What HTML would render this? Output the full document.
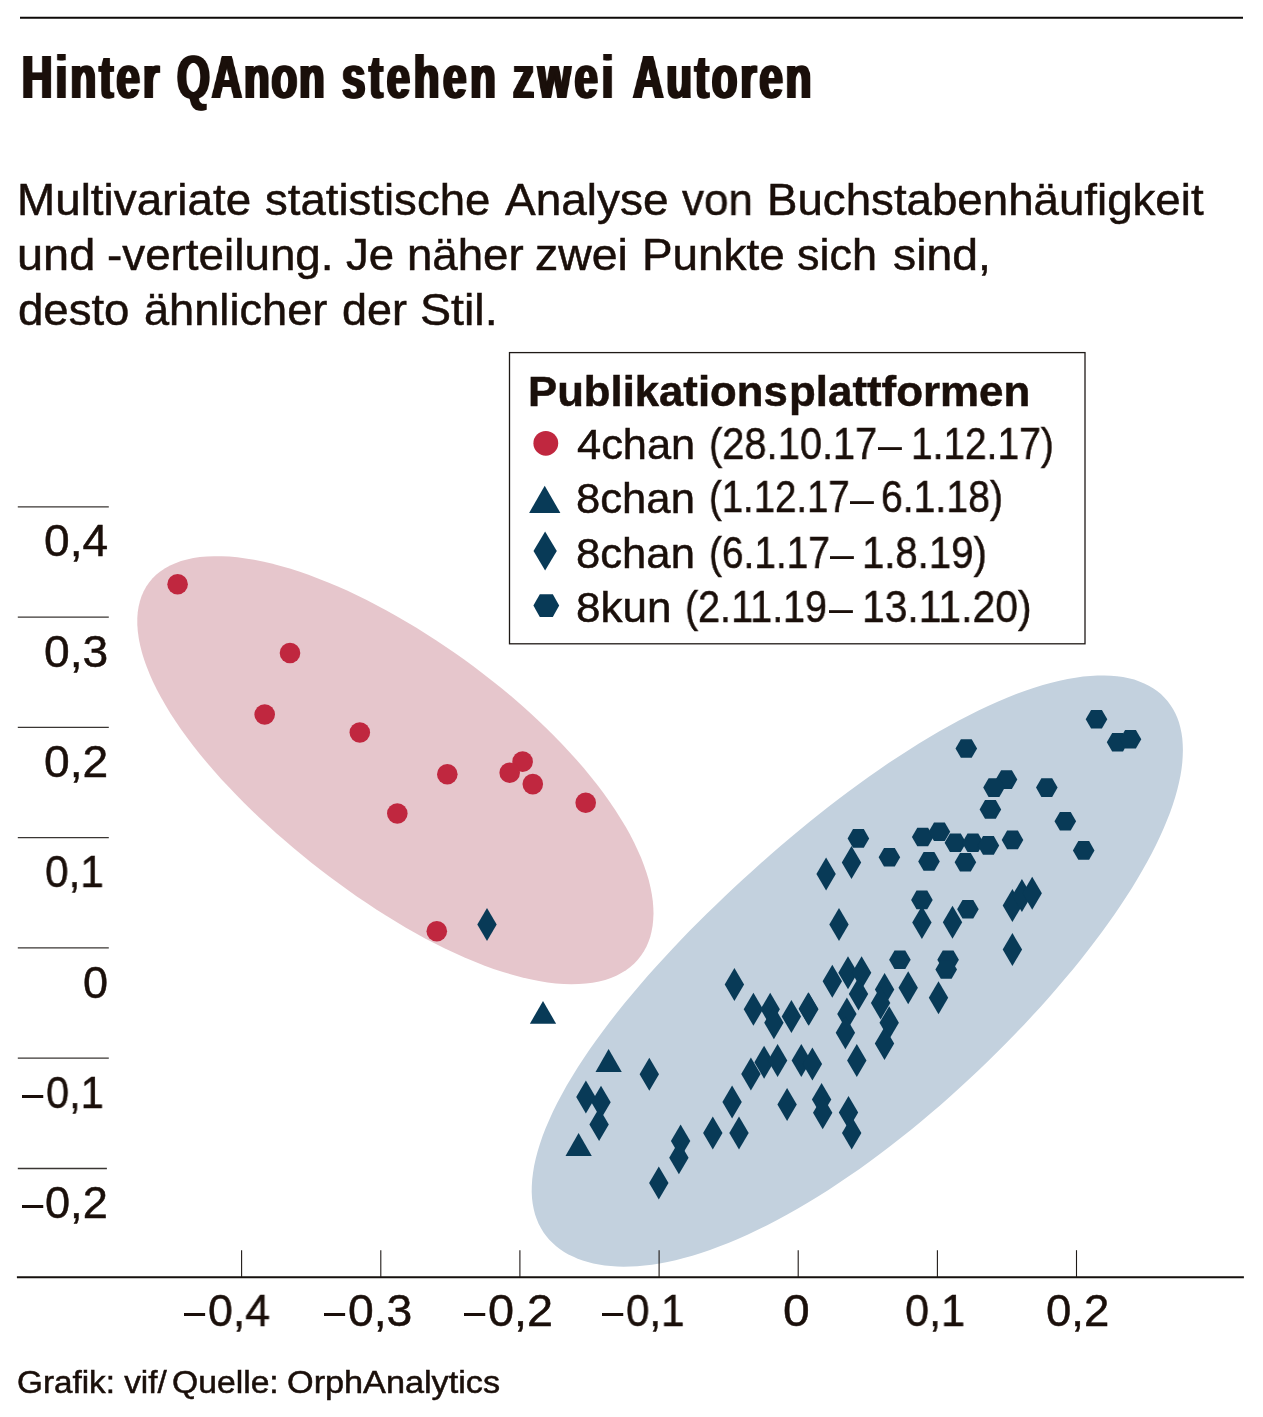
<!DOCTYPE html><html lang="de"><head><meta charset="utf-8"><title>Hinter QAnon stehen zwei Autoren</title><style>
html,body{margin:0;padding:0;background:#fff}
body{width:1263px;height:1417px;position:relative;overflow:hidden;font-family:"Liberation Sans",sans-serif;color:#1a0f0a}
svg{position:absolute;left:0;top:0}
.t{position:absolute;white-space:nowrap;line-height:1;transform-origin:0 0;will-change:transform;-webkit-text-stroke:0.5px #1a0f0a}
</style></head><body>
<svg width="1263" height="1417" viewBox="0 0 1263 1417">
<path fill="#e6c6cc" d="M149.3 582.3L152.6 578.3L156.4 574.6L160.6 571.3L165.1 568.2L170.1 565.5L175.4 563.2L181.0 561.1L187.0 559.5L193.3 558.1L199.9 557.1L206.8 556.5L214.1 556.2L221.6 556.2L229.3 556.6L237.4 557.3L245.6 558.4L254.1 559.8L262.7 561.5L271.6 563.6L280.6 565.9L289.8 568.6L299.1 571.6L308.5 574.8L318.0 578.4L327.6 582.2L337.3 586.3L347.1 590.6L356.9 595.2L366.7 600.1L376.6 605.2L386.5 610.4L396.3 615.9L406.2 621.7L416.0 627.6L425.8 633.7L435.6 639.9L445.3 646.4L454.9 653.0L464.5 659.8L474.0 666.8L483.4 673.9L492.7 681.2L501.9 688.6L511.0 696.1L519.9 703.8L528.6 711.6L537.2 719.5L545.6 727.5L553.7 735.6L561.7 743.7L569.4 752.0L576.9 760.2L584.1 768.6L591.0 776.9L597.6 785.2L603.8 793.6L609.8 801.9L615.4 810.2L620.6 818.4L625.5 826.5L630.0 834.6L634.1 842.6L637.8 850.4L641.2 858.1L644.1 865.7L646.6 873.1L648.8 880.3L650.5 887.4L651.8 894.3L652.8 901.0L653.3 907.5L653.5 913.8L653.2 919.8L652.6 925.7L651.6 931.3L650.3 936.7L648.5 941.8L646.4 946.7L643.9 951.3L641.1 955.6L637.8 959.7L634.3 963.5L630.3 967.0L626.0 970.2L621.3 973.1L616.3 975.7L610.9 978.0L605.2 979.9L599.1 981.5L592.6 982.7L585.9 983.6L578.8 984.1L571.4 984.2L563.7 984.0L555.8 983.4L547.5 982.4L539.0 981.1L530.3 979.3L521.4 977.3L512.3 974.8L503.0 972.0L493.5 968.9L484.0 965.4L474.3 961.6L464.5 957.5L454.7 953.1L444.9 948.5L435.0 943.6L425.1 938.4L415.3 933.0L405.5 927.4L395.7 921.6L385.9 915.6L376.3 909.5L366.7 903.1L357.2 896.7L347.8 890.1L338.5 883.3L329.3 876.5L320.1 869.5L311.1 862.5L302.3 855.3L293.5 848.0L284.8 840.6L276.3 833.2L267.9 825.6L259.7 818.0L251.6 810.3L243.7 802.5L235.9 794.6L228.3 786.6L220.9 778.7L213.7 770.6L206.8 762.5L200.1 754.4L193.6 746.2L187.4 738.1L181.5 729.9L175.9 721.8L170.6 713.7L165.7 705.6L161.1 697.6L156.9 689.7L153.1 681.9L149.7 674.2L146.6 666.6L144.0 659.2L141.8 651.9L140.0 644.8L138.7 637.9L137.8 631.2L137.3 624.8L137.3 618.5L137.7 612.5L138.6 606.8L139.9 601.3L141.6 596.1L143.7 591.2L146.3 586.6Z"/>
<path fill="#c3d1de" d="M552.7 1243.1L549.3 1239.7L546.2 1236.0L543.4 1232.2L540.9 1228.0L538.6 1223.7L536.7 1219.0L535.0 1214.2L533.7 1209.0L532.7 1203.7L532.0 1198.0L531.7 1192.1L531.8 1186.0L532.2 1179.5L533.0 1172.9L534.1 1166.0L535.7 1158.8L537.6 1151.5L539.9 1143.9L542.6 1136.1L545.7 1128.1L549.2 1119.9L553.0 1111.5L557.2 1103.0L561.8 1094.4L566.7 1085.6L572.0 1076.7L577.5 1067.8L583.4 1058.7L589.6 1049.6L596.0 1040.4L602.8 1031.2L609.7 1022.0L616.9 1012.8L624.3 1003.6L631.9 994.4L639.7 985.2L647.6 976.1L655.7 967.0L664.0 957.9L672.3 948.9L680.8 940.0L689.4 931.1L698.2 922.3L707.0 913.6L715.9 904.9L724.9 896.3L733.9 887.7L743.1 879.3L752.3 870.9L761.6 862.5L771.0 854.3L780.5 846.1L790.0 838.1L799.6 830.1L809.3 822.1L819.0 814.3L828.8 806.6L838.6 799.0L848.6 791.6L858.5 784.2L868.5 777.0L878.6 770.0L888.6 763.1L898.7 756.4L908.8 749.9L918.9 743.6L928.9 737.4L939.0 731.6L948.9 725.9L958.9 720.5L968.7 715.4L978.5 710.6L988.1 706.0L997.6 701.8L1007.0 697.8L1016.2 694.1L1025.3 690.8L1034.2 687.8L1042.9 685.1L1051.4 682.8L1059.6 680.7L1067.7 679.0L1075.5 677.7L1083.1 676.6L1090.4 675.9L1097.4 675.5L1104.2 675.4L1110.8 675.7L1117.0 676.2L1123.0 677.1L1128.7 678.2L1134.2 679.6L1139.3 681.4L1144.2 683.4L1148.8 685.7L1153.1 688.2L1157.1 691.0L1160.9 694.1L1164.3 697.4L1167.5 701.0L1170.4 704.9L1173.0 708.9L1175.3 713.3L1177.3 717.8L1179.0 722.6L1180.4 727.7L1181.5 732.9L1182.3 738.4L1182.7 744.1L1182.9 750.1L1182.7 756.2L1182.3 762.6L1181.5 769.2L1180.4 776.0L1178.9 783.0L1177.2 790.1L1175.1 797.5L1172.7 805.0L1170.0 812.7L1166.9 820.6L1163.6 828.6L1159.9 836.7L1156.0 845.0L1151.7 853.4L1147.1 862.0L1142.3 870.6L1137.2 879.3L1131.8 888.2L1126.1 897.1L1120.2 906.0L1114.1 915.0L1107.7 924.1L1101.0 933.2L1094.2 942.3L1087.1 951.5L1079.9 960.7L1072.4 969.9L1064.7 979.1L1056.9 988.3L1048.9 997.5L1040.7 1006.7L1032.3 1015.8L1023.8 1024.9L1015.1 1034.0L1006.3 1043.1L997.3 1052.1L988.2 1061.1L978.9 1070.0L969.5 1078.8L960.0 1087.6L950.4 1096.3L940.6 1104.9L930.8 1113.3L920.8 1121.7L910.8 1130.0L900.6 1138.1L890.4 1146.0L880.2 1153.8L869.8 1161.4L859.5 1168.9L849.1 1176.1L838.8 1183.1L828.4 1189.9L818.0 1196.5L807.7 1202.8L797.5 1208.8L787.3 1214.6L777.2 1220.0L767.2 1225.2L757.3 1230.1L747.5 1234.7L737.9 1239.0L728.4 1243.0L719.1 1246.6L710.0 1250.0L701.1 1253.0L692.4 1255.7L683.9 1258.1L675.6 1260.2L667.5 1262.0L659.6 1263.5L651.9 1264.7L644.5 1265.6L637.3 1266.2L630.4 1266.6L623.6 1266.7L617.1 1266.5L610.8 1266.1L604.7 1265.5L598.9 1264.6L593.3 1263.4L587.9 1262.1L582.7 1260.5L577.7 1258.7L573.0 1256.6L568.4 1254.4L564.1 1251.9L560.1 1249.2L556.2 1246.2Z"/>
<path d="M20 17.8H1243" stroke="#0d0a08" stroke-width="2" fill="none"/>
<path d="M16.9 1277.3H1243.9" stroke="#15100d" stroke-width="1.9" fill="none"/>
<g stroke="#1f1a17" stroke-width="1.1" fill="none">
<path d="M241.6 1250.2V1277.3"/>
<path d="M380.8 1250.2V1277.3"/>
<path d="M519.9 1250.2V1277.3"/>
<path d="M659.1 1250.2V1277.3"/>
<path d="M798.2 1250.2V1277.3"/>
<path d="M937.4 1250.2V1277.3"/>
<path d="M1076.5 1250.2V1277.3"/>
</g>
<g stroke="#3a3633" stroke-width="1.3" fill="none">
<path d="M17.8 506.8H108.8"/>
<path d="M17.8 617.1H108.8"/>
<path d="M17.8 727.4H108.8"/>
<path d="M17.8 837.6H108.8"/>
<path d="M17.8 947.9H108.8"/>
<path d="M17.8 1058.2H108.8"/>
<path d="M17.8 1168.5H106.9"/>
</g>
<g fill="#c0273f">
<circle cx="177.6" cy="584.3" r="10.3"/>
<circle cx="290.0" cy="653.0" r="10.3"/>
<circle cx="264.7" cy="714.5" r="10.3"/>
<circle cx="359.8" cy="732.5" r="10.3"/>
<circle cx="447.3" cy="774.2" r="10.3"/>
<circle cx="397.3" cy="813.5" r="10.3"/>
<circle cx="522.6" cy="761.6" r="10.3"/>
<circle cx="509.7" cy="772.7" r="10.3"/>
<circle cx="532.8" cy="784.1" r="10.3"/>
<circle cx="585.7" cy="802.8" r="10.3"/>
<circle cx="436.8" cy="931.3" r="10.3"/>
</g>
<g fill="#083a57">
<path d="M543.0 1000.9L556.1 1023.7L529.9 1023.7Z"/>
<path d="M608.6 1049.1L621.8 1071.9L595.5 1071.9Z"/>
<path d="M578.6 1133.1L591.8 1155.9L565.5 1155.9Z"/>
<path d="M487.0 908.0L496.7 924.5L487.0 941.0L477.3 924.5Z"/>
<path d="M839.0 908.0L848.7 924.5L839.0 941.0L829.3 924.5Z"/>
<path d="M734.4 967.9L744.1 984.4L734.4 1000.9L724.7 984.4Z"/>
<path d="M753.4 992.8L763.1 1009.3L753.4 1025.8L743.7 1009.3Z"/>
<path d="M770.2 992.8L779.9 1009.3L770.2 1025.8L760.5 1009.3Z"/>
<path d="M773.9 1006.2L783.6 1022.7L773.9 1039.2L764.2 1022.7Z"/>
<path d="M791.4 999.9L801.1 1016.4L791.4 1032.9L781.7 1016.4Z"/>
<path d="M808.8 992.8L818.5 1009.3L808.8 1025.8L799.1 1009.3Z"/>
<path d="M832.3 964.7L842.0 981.2L832.3 997.7L822.6 981.2Z"/>
<path d="M848.0 956.2L857.7 972.7L848.0 989.2L838.3 972.7Z"/>
<path d="M861.6 956.2L871.3 972.7L861.6 989.2L851.9 972.7Z"/>
<path d="M858.5 977.6L868.2 994.1L858.5 1010.6L848.8 994.1Z"/>
<path d="M846.9 997.5L856.6 1014.0L846.9 1030.5L837.2 1014.0Z"/>
<path d="M845.4 1016.2L855.1 1032.7L845.4 1049.2L835.7 1032.7Z"/>
<path d="M884.6 972.9L894.3 989.4L884.6 1005.9L874.9 989.4Z"/>
<path d="M880.6 986.5L890.3 1003.0L880.6 1019.5L870.9 1003.0Z"/>
<path d="M889.2 1006.2L898.9 1022.7L889.2 1039.2L879.5 1022.7Z"/>
<path d="M884.5 1027.1L894.2 1043.6L884.5 1060.1L874.8 1043.6Z"/>
<path d="M856.8 1043.9L866.5 1060.4L856.8 1076.9L847.1 1060.4Z"/>
<path d="M750.9 1057.6L760.6 1074.1L750.9 1090.6L741.2 1074.1Z"/>
<path d="M764.1 1045.7L773.8 1062.2L764.1 1078.7L754.4 1062.2Z"/>
<path d="M777.6 1043.9L787.3 1060.4L777.6 1076.9L767.9 1060.4Z"/>
<path d="M801.3 1043.9L811.0 1060.4L801.3 1076.9L791.6 1060.4Z"/>
<path d="M812.4 1047.4L822.1 1063.9L812.4 1080.4L802.7 1063.9Z"/>
<path d="M732.1 1085.6L741.8 1102.1L732.1 1118.6L722.4 1102.1Z"/>
<path d="M787.1 1088.1L796.8 1104.6L787.1 1121.1L777.4 1104.6Z"/>
<path d="M821.6 1082.9L831.3 1099.4L821.6 1115.9L811.9 1099.4Z"/>
<path d="M822.7 1096.3L832.4 1112.8L822.7 1129.3L813.0 1112.8Z"/>
<path d="M848.5 1096.0L858.2 1112.5L848.5 1129.0L838.8 1112.5Z"/>
<path d="M851.7 1116.6L861.4 1133.1L851.7 1149.6L842.0 1133.1Z"/>
<path d="M712.8 1116.5L722.5 1133.0L712.8 1149.5L703.1 1133.0Z"/>
<path d="M739.0 1116.5L748.7 1133.0L739.0 1149.5L729.3 1133.0Z"/>
<path d="M649.3 1057.8L659.0 1074.3L649.3 1090.8L639.6 1074.3Z"/>
<path d="M585.9 1080.6L595.6 1097.1L585.9 1113.6L576.2 1097.1Z"/>
<path d="M601.0 1085.8L610.7 1102.3L601.0 1118.8L591.3 1102.3Z"/>
<path d="M599.1 1108.0L608.8 1124.5L599.1 1141.0L589.4 1124.5Z"/>
<path d="M680.6 1124.6L690.3 1141.1L680.6 1157.6L670.9 1141.1Z"/>
<path d="M678.9 1141.3L688.6 1157.8L678.9 1174.3L669.2 1157.8Z"/>
<path d="M658.8 1166.6L668.5 1183.1L658.8 1199.6L649.1 1183.1Z"/>
<path d="M826.1 857.6L835.8 874.1L826.1 890.6L816.4 874.1Z"/>
<path d="M851.5 846.0L861.2 862.5L851.5 879.0L841.8 862.5Z"/>
<path d="M921.9 906.0L931.6 922.5L921.9 939.0L912.2 922.5Z"/>
<path d="M952.5 905.8L962.2 922.3L952.5 938.8L942.8 922.3Z"/>
<path d="M1012.4 889.1L1022.1 905.6L1012.4 922.1L1002.7 905.6Z"/>
<path d="M1021.9 879.1L1031.6 895.6L1021.9 912.1L1012.2 895.6Z"/>
<path d="M1032.2 876.8L1041.9 893.3L1032.2 909.8L1022.5 893.3Z"/>
<path d="M1012.4 933.1L1022.1 949.6L1012.4 966.1L1002.7 949.6Z"/>
<path d="M908.2 971.3L917.9 987.8L908.2 1004.3L898.5 987.8Z"/>
<path d="M938.5 981.3L948.2 997.8L938.5 1014.3L928.8 997.8Z"/>
<path d="M808.3 992.2L818.0 1008.7L808.3 1025.2L798.6 1008.7Z"/>
<path d="M1085.7 719.3L1091.1 710.0L1101.9 710.0L1107.3 719.3L1101.9 728.6L1091.1 728.6Z"/>
<path d="M1106.8 742.2L1112.2 732.9L1123.0 732.9L1128.4 742.2L1123.0 751.5L1112.2 751.5Z"/>
<path d="M1119.7 739.3L1125.1 730.0L1135.9 730.0L1141.3 739.3L1135.9 748.6L1125.1 748.6Z"/>
<path d="M955.5 748.5L960.9 739.2L971.7 739.2L977.1 748.5L971.7 757.8L960.9 757.8Z"/>
<path d="M995.7 779.6L1001.1 770.3L1011.9 770.3L1017.3 779.6L1011.9 788.9L1001.1 788.9Z"/>
<path d="M983.2 787.6L988.6 778.3L999.4 778.3L1004.8 787.6L999.4 796.9L988.6 796.9Z"/>
<path d="M1036.0 787.6L1041.4 778.3L1052.2 778.3L1057.6 787.6L1052.2 796.9L1041.4 796.9Z"/>
<path d="M979.6 809.4L985.0 800.1L995.8 800.1L1001.2 809.4L995.8 818.7L985.0 818.7Z"/>
<path d="M1054.5 821.3L1059.9 812.0L1070.7 812.0L1076.1 821.3L1070.7 830.6L1059.9 830.6Z"/>
<path d="M1072.9 850.4L1078.3 841.1L1089.1 841.1L1094.5 850.4L1089.1 859.7L1078.3 859.7Z"/>
<path d="M1001.7 839.9L1007.1 830.6L1017.9 830.6L1023.3 839.9L1017.9 849.2L1007.1 849.2Z"/>
<path d="M847.6 838.4L853.0 829.1L863.8 829.1L869.2 838.4L863.8 847.7L853.0 847.7Z"/>
<path d="M911.9 837.0L917.3 827.7L928.1 827.7L933.5 837.0L928.1 846.3L917.3 846.3Z"/>
<path d="M928.6 831.8L934.0 822.5L944.8 822.5L950.2 831.8L944.8 841.1L934.0 841.1Z"/>
<path d="M944.6 842.8L950.0 833.5L960.8 833.5L966.2 842.8L960.8 852.1L950.0 852.1Z"/>
<path d="M962.1 842.8L967.5 833.5L978.3 833.5L983.7 842.8L978.3 852.1L967.5 852.1Z"/>
<path d="M977.6 845.4L983.0 836.1L993.8 836.1L999.2 845.4L993.8 854.7L983.0 854.7Z"/>
<path d="M878.6 857.2L884.0 847.9L894.8 847.9L900.2 857.2L894.8 866.5L884.0 866.5Z"/>
<path d="M918.2 861.4L923.6 852.1L934.4 852.1L939.8 861.4L934.4 870.7L923.6 870.7Z"/>
<path d="M954.6 862.2L960.0 852.9L970.8 852.9L976.2 862.2L970.8 871.5L960.0 871.5Z"/>
<path d="M911.1 899.9L916.5 890.6L927.3 890.6L932.7 899.9L927.3 909.2L916.5 909.2Z"/>
<path d="M957.1 909.2L962.5 899.9L973.3 899.9L978.7 909.2L973.3 918.5L962.5 918.5Z"/>
<path d="M889.1 959.8L894.5 950.5L905.3 950.5L910.7 959.8L905.3 969.1L894.5 969.1Z"/>
<path d="M937.3 959.8L942.7 950.5L953.5 950.5L958.9 959.8L953.5 969.1L942.7 969.1Z"/>
<path d="M935.4 969.5L940.8 960.2L951.6 960.2L957.0 969.5L951.6 978.8L940.8 978.8Z"/>
</g>
<rect x="509.5" y="352.6" width="575.5" height="291.2" fill="#fff" stroke="#1f1a17" stroke-width="1.3"/>
<circle cx="545.8" cy="443.3" r="12.4" fill="#c0273f"/>
<g fill="#083a57"><path d="M544.7 485.7L560.4 513.0L529.1 513.0Z"/><path d="M545.1 531.4L556.8 551.0L545.1 570.6L533.5 551.0Z"/><path d="M533.4 605.6L539.8 594.3L552.8 594.3L559.2 605.6L552.8 616.9L539.8 616.9Z"/></g>
</svg>
<div class="t" id="t1" style="left:21.71px;top:46.42px;font-size:62px;transform:scaleX(0.6800);font-weight:bold;letter-spacing:4.57px;-webkit-text-stroke:0;text-shadow:2.13px 0 0 #1a0f0a,-2.13px 0 0 #1a0f0a;">Hinter</div>
<div class="t" id="t2" style="left:177.03px;top:46.42px;font-size:62px;transform:scaleX(0.6800);font-weight:bold;letter-spacing:2.63px;-webkit-text-stroke:0;text-shadow:2.13px 0 0 #1a0f0a,-2.13px 0 0 #1a0f0a;">QAnon</div>
<div class="t" id="t3" style="left:342.03px;top:46.42px;font-size:62px;transform:scaleX(0.6800);font-weight:bold;letter-spacing:5.26px;-webkit-text-stroke:0;text-shadow:2.13px 0 0 #1a0f0a,-2.13px 0 0 #1a0f0a;">stehen</div>
<div class="t" id="t4" style="left:512.83px;top:46.42px;font-size:62px;transform:scaleX(0.6800);font-weight:bold;letter-spacing:5.53px;-webkit-text-stroke:0;text-shadow:2.13px 0 0 #1a0f0a,-2.13px 0 0 #1a0f0a;">zwei</div>
<div class="t" id="t5" style="left:632.69px;top:46.42px;font-size:62px;transform:scaleX(0.6800);font-weight:bold;letter-spacing:4.12px;-webkit-text-stroke:0;text-shadow:2.13px 0 0 #1a0f0a,-2.13px 0 0 #1a0f0a;">Autoren</div>
<div class="t" id="sa0" style="left:17.22px;top:178.13px;font-size:44.5px;transform:scaleX(1.0295);">Multivariate</div>
<div class="t" id="sa1" style="left:265.29px;top:178.13px;font-size:44.5px;transform:scaleX(1.0238);">statistische</div>
<div class="t" id="sa2" style="left:504.70px;top:178.13px;font-size:44.5px;transform:scaleX(1.0332);">Analyse</div>
<div class="t" id="sa3" style="left:681.60px;top:178.13px;font-size:44.5px;transform:scaleX(0.9877);">von</div>
<div class="t" id="sa4" style="left:766.73px;top:178.13px;font-size:44.5px;transform:scaleX(1.0260);">Buchstabenhäufigkeit</div>
<div class="t" id="sb0" style="left:16.87px;top:233.13px;font-size:44.5px;transform:scaleX(1.0541);">und</div>
<div class="t" id="sb1" style="left:107.47px;top:233.13px;font-size:44.5px;transform:scaleX(1.0292);">-verteilung.</div>
<div class="t" id="sb2" style="left:346.19px;top:233.13px;font-size:44.5px;transform:scaleX(1.0247);">Je</div>
<div class="t" id="sb3" style="left:406.55px;top:233.13px;font-size:44.5px;transform:scaleX(1.0251);">näher</div>
<div class="t" id="sb4" style="left:535.45px;top:233.13px;font-size:44.5px;transform:scaleX(1.0437);">zwei</div>
<div class="t" id="sb5" style="left:642.02px;top:233.13px;font-size:44.5px;transform:scaleX(1.0303);">Punkte</div>
<div class="t" id="sb6" style="left:797.40px;top:233.13px;font-size:44.5px;transform:scaleX(1.0113);">sich</div>
<div class="t" id="sb7" style="left:892.68px;top:233.13px;font-size:44.5px;transform:scaleX(1.0403);">sind,</div>
<div class="t" id="sc0" style="left:18.38px;top:288.13px;font-size:44.5px;transform:scaleX(1.0230);">desto</div>
<div class="t" id="sc1" style="left:144.29px;top:288.13px;font-size:44.5px;transform:scaleX(1.0152);">ähnlicher</div>
<div class="t" id="sc2" style="left:341.90px;top:288.13px;font-size:44.5px;transform:scaleX(1.0094);">der</div>
<div class="t" id="sc3" style="left:420.04px;top:288.13px;font-size:44.5px;transform:scaleX(1.0470);">Stil.</div>
<div class="t" id="lt0" style="left:528.17px;top:369.90px;font-size:43px;transform:scaleX(1.0158);font-weight:bold;">Publikations</div>
<div class="t" id="lt1" style="left:788.86px;top:369.90px;font-size:43px;transform:scaleX(1.0201);font-weight:bold;">plattformen</div>
<div class="t" id="la0" style="left:576.52px;top:423.20px;font-size:43px;transform:scaleX(1.0090);">4chan</div>
<div class="t" id="la1" style="left:708.83px;top:421.93px;font-size:44.5px;transform:scaleX(0.8949);">(28.10.17</div>
<div class="t" id="la2" style="left:878.20px;top:423.20px;font-size:43px;transform:scaleX(0.9840);-webkit-text-stroke:0;">–</div>
<div class="t" id="la3" style="left:911.27px;top:421.93px;font-size:44.5px;transform:scaleX(0.8742);">1.12.17)</div>
<div class="t" id="lb0" style="left:575.84px;top:476.60px;font-size:43px;transform:scaleX(1.0150);">8chan</div>
<div class="t" id="lb1" style="left:708.90px;top:475.33px;font-size:44.5px;transform:scaleX(0.8614);">(1.12.17</div>
<div class="t" id="lb2" style="left:849.90px;top:476.60px;font-size:43px;transform:scaleX(0.9964);-webkit-text-stroke:0;">–</div>
<div class="t" id="lb3" style="left:881.36px;top:475.33px;font-size:44.5px;transform:scaleX(0.8803);">6.1.18)</div>
<div class="t" id="lc0" style="left:575.84px;top:531.80px;font-size:43px;transform:scaleX(1.0150);">8chan</div>
<div class="t" id="lc1" style="left:708.88px;top:530.53px;font-size:44.5px;transform:scaleX(0.8726);">(6.1.17</div>
<div class="t" id="lc2" style="left:830.20px;top:531.80px;font-size:43px;transform:scaleX(0.9798);-webkit-text-stroke:0;">–</div>
<div class="t" id="lc3" style="left:862.29px;top:530.53px;font-size:44.5px;transform:scaleX(0.9014);">1.8.19)</div>
<div class="t" id="ld0" style="left:575.82px;top:586.10px;font-size:43px;transform:scaleX(1.0247);">8kun</div>
<div class="t" id="ld1" style="left:684.85px;top:584.83px;font-size:44.5px;transform:scaleX(0.8873);">(2.11.19</div>
<div class="t" id="ld2" style="left:828.70px;top:586.10px;font-size:43px;transform:scaleX(1.0005);-webkit-text-stroke:0;">–</div>
<div class="t" id="ld3" style="left:862.25px;top:584.83px;font-size:44.5px;transform:scaleX(0.9173);">13.11.20)</div>
<div class="t" id="y0" style="left:43.76px;top:518.21px;font-size:45px;transform:scaleX(1.0245);">0,4</div>
<div class="t" id="y1" style="left:43.76px;top:628.51px;font-size:45px;transform:scaleX(1.0265);">0,3</div>
<div class="t" id="y2" style="left:43.76px;top:738.81px;font-size:45px;transform:scaleX(1.0265);">0,2</div>
<div class="t" id="y3" style="left:44.58px;top:849.41px;font-size:45px;transform:scaleX(0.9406);">0,1</div>
<div class="t" id="y4" style="left:82.51px;top:959.91px;font-size:45px;transform:scaleX(0.9867);">0</div>
<div class="t" id="y5d" style="left:21.60px;top:1070.01px;font-size:45px;transform:scaleX(0.8494);-webkit-text-stroke:0;">–</div>
<div class="t" id="y5" style="left:45.60px;top:1070.01px;font-size:45px;transform:scaleX(0.9237);">0,1</div>
<div class="t" id="y6d" style="left:21.80px;top:1180.11px;font-size:45px;transform:scaleX(0.8494);-webkit-text-stroke:0;">–</div>
<div class="t" id="y6" style="left:45.49px;top:1180.11px;font-size:45px;transform:scaleX(1.0029);">0,2</div>
<div class="t" id="x0d" style="left:184.00px;top:1288.41px;font-size:45px;transform:scaleX(0.8454);-webkit-text-stroke:0;">–</div>
<div class="t" id="x0" style="left:207.61px;top:1288.41px;font-size:45px;transform:scaleX(0.9912);">0,4</div>
<div class="t" id="x1d" style="left:324.00px;top:1288.41px;font-size:45px;transform:scaleX(0.8454);-webkit-text-stroke:0;">–</div>
<div class="t" id="x1" style="left:347.55px;top:1288.41px;font-size:45px;transform:scaleX(1.0282);">0,3</div>
<div class="t" id="x2d" style="left:464.30px;top:1288.41px;font-size:45px;transform:scaleX(0.8494);-webkit-text-stroke:0;">–</div>
<div class="t" id="x2" style="left:487.84px;top:1288.41px;font-size:45px;transform:scaleX(1.0400);">0,2</div>
<div class="t" id="x3d" style="left:602.00px;top:1288.41px;font-size:45px;transform:scaleX(0.8494);-webkit-text-stroke:0;">–</div>
<div class="t" id="x3" style="left:626.18px;top:1288.41px;font-size:45px;transform:scaleX(0.9355);">0,1</div>
<div class="t" id="x4" style="left:783.00px;top:1288.41px;font-size:45px;transform:scaleX(1.0667);">0</div>
<div class="t" id="x5" style="left:904.65px;top:1288.41px;font-size:45px;transform:scaleX(0.9608);">0,1</div>
<div class="t" id="x6" style="left:1045.58px;top:1288.41px;font-size:45px;transform:scaleX(1.0114);">0,2</div>
<div class="t" id="f1" style="left:17.04px;top:1367.06px;font-size:31px;transform:scaleX(1.0733);">Grafik: vif/</div>
<div class="t" id="f2" style="left:172.02px;top:1367.06px;font-size:31px;transform:scaleX(1.0865);">Quelle:</div>
<div class="t" id="f3" style="left:286.50px;top:1367.06px;font-size:31px;transform:scaleX(1.1042);">OrphAnalytics</div>
</body></html>
